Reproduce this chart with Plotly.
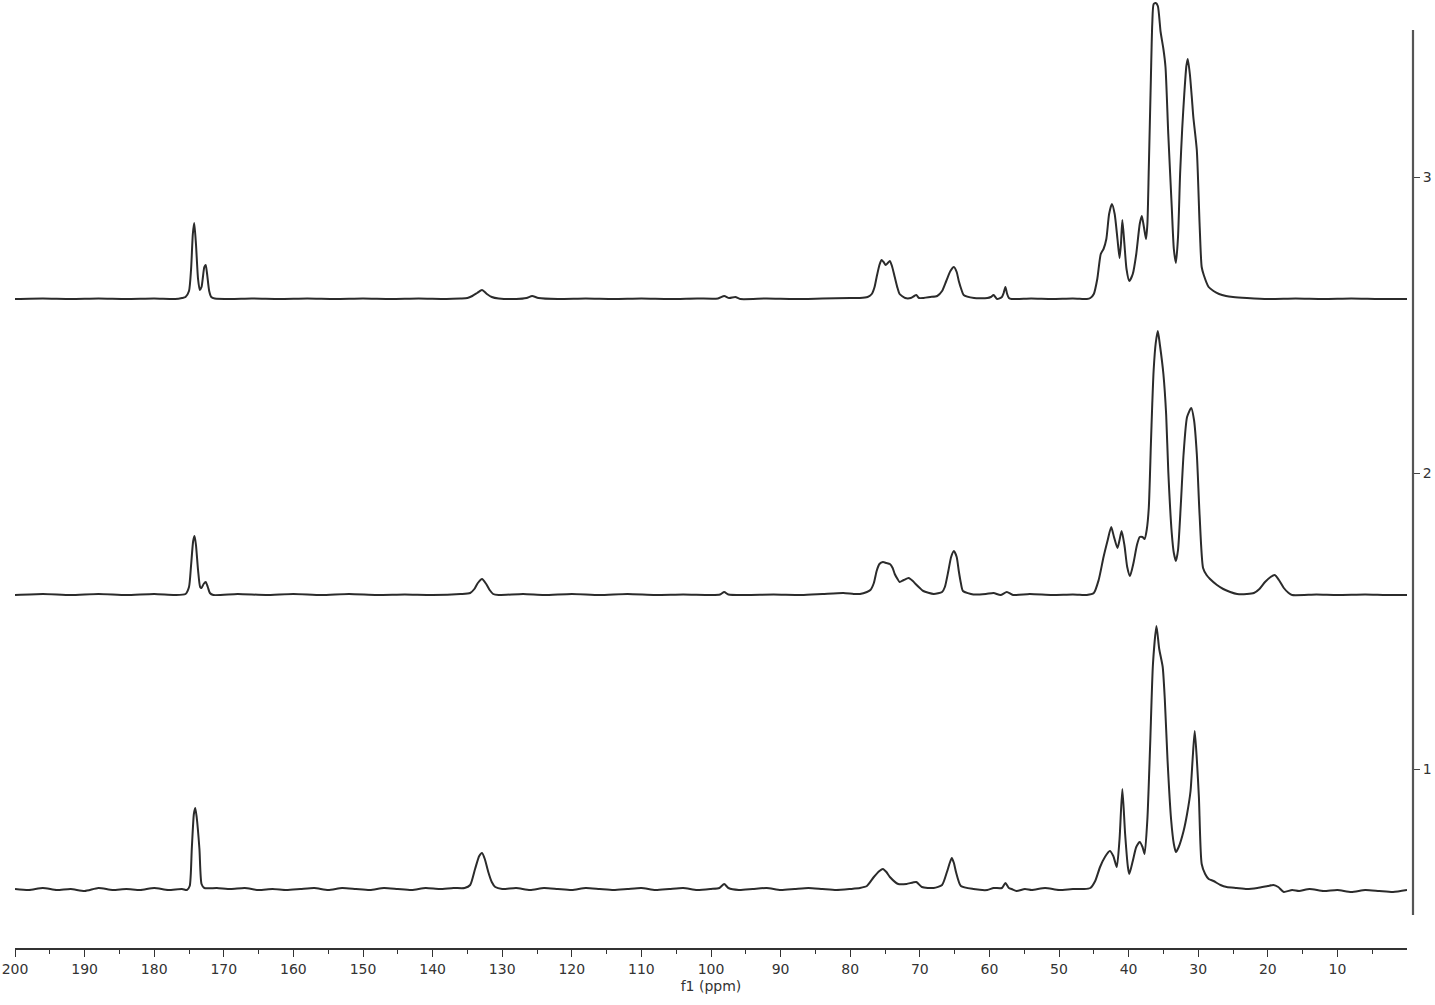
import plotly.graph_objects as go

# ---- data: (chemical shift ppm, intensity a.u.) ----
spectrum_1 = [
    (200, 0), (198, -1), (196, 1), (194, -1), (192, 0), (190, -2), (188, 1), (186, -1), (184, 0),
    (182, -1), (180, 1), (178, -1), (176, 0), (175.3, -1), (174.9, 3), (174.6, 40), (174.3, 75),
    (174.1, 81), (173.9, 72), (173.5, 40), (173.2, 5), (172.8, 1), (171, 1), (169, 0), (167, 1),
    (165, -1), (163, 0), (161, -1), (159, 0), (157, 1), (155, -1), (153, 1), (151, 0), (149, -1),
    (147, 1), (145, 0), (143, -1), (141, 1), (139, 0), (137, 1), (135.4, 1), (134.6, 4), (133.9, 20),
    (133.3, 33), (132.9, 36), (132.5, 30), (132.0, 17), (131.5, 7), (131.0, 2), (130, 0), (128, 1),
    (126, -1), (124, 1), (122, 0), (120, -1), (118, 1), (116, 0), (114, -1), (112, 0), (110, 1),
    (108, -1), (106, 0), (104, 1), (102, -1), (100, 0), (98.8, 1), (98.1, 5), (97.5, 1), (96, -1),
    (94, 0), (92, 1), (90, -1), (88, 0), (86, 1), (84, 0), (82, -1), (80, 0), (78.6, 1), (77.6, 3),
    (76.6, 12), (75.8, 18), (75.3, 20), (74.8, 17), (74.3, 12), (73.1, 5), (71.9, 5), (70.5, 7),
    (69.7, 2), (68.0, 1), (66.8, 4), (66.1, 17), (65.7, 26), (65.4, 31), (65.1, 26), (64.8, 17),
    (64.1, 3), (62.3, 0), (60.3, -1), (59.4, 1), (58.2, 1), (57.7, 6), (57.2, 1), (56.8, 0),
    (56.1, -2), (54.9, 0), (53.9, -1), (52, 1), (50, -1), (48, 0), (46.5, 0),
    (45.5, 1), (44.8, 8), (44.1, 22), (43.4, 32), (42.7, 38), (42.2, 33), (41.7, 22), (41.3, 50),
    (40.9, 100), (40.5, 55), (40.1, 22), (39.9, 15), (39.4, 28), (38.9, 42), (38.4, 47), (38.0, 42),
    (37.7, 35), (37.3, 70), (36.9, 145), (36.5, 225), (36.0, 263), (35.6, 240), (35.1, 222),
    (34.8, 190), (34.4, 128), (33.9, 70), (33.5, 45), (33.2, 37), (32.8, 42), (32.1, 58), (31.6, 75),
    (31.1, 98), (30.8, 130), (30.5, 158), (30.2, 130), (29.9, 92), (29.5, 25), (29.0, 15),
    (28.5, 10), (27.8, 8), (26.8, 4), (25.9, 2), (24.5, 1), (23.0, 0), (21.5, 1), (20.0, 3),
    (19.2, 4), (18.5, 2), (17.7, -3), (16.5, -1), (15.5, -2), (14, 0), (12, -2), (10, -1), (8, -3),
    (6, -1), (4, -2), (2, -3), (0, -1),
]

spectrum_2 = [
    (200, 0), (196, 1), (192, 0), (188, 1), (184, 0), (180, 1), (177, 0), (175.5, 1), (175.0, 8),
    (174.7, 30), (174.4, 54), (174.2, 59), (174.0, 50), (173.7, 25), (173.4, 8), (173.2, 7),
    (172.9, 11), (172.6, 13), (172.3, 8), (172.0, 2), (171.5, 0), (168, 1), (164, 0), (160, 1),
    (156, 0), (152, 1), (148, 0), (144, 0.5), (140, 0), (136, 1), (134.6, 2), (134.0, 6),
    (133.5, 12), (132.9, 16), (132.3, 11), (131.8, 5), (131.3, 1), (130.5, 0), (127, 1), (124, 0),
    (120, 1), (116, 0), (112, 1), (108, 0), (104, 0.5), (100, 0), (98.7, 0.5), (98.1, 3),
    (97.5, 0.5), (95, 0), (91, 0.5), (87, 0), (84, 1), (81, 2), (79.5, 1), (78.6, 1), (77.6, 3),
    (77.1, 5), (76.6, 12), (76.2, 24), (75.8, 31), (75.3, 33), (74.8, 32), (74.3, 31), (73.9, 27),
    (73.6, 21), (73.2, 16), (72.9, 13), (72.3, 15), (71.6, 17), (71.0, 14), (70.6, 11), (70.0, 7),
    (69.5, 4), (68.0, 1), (66.8, 3), (66.4, 8), (65.9, 24), (65.5, 38), (65.1, 44), (64.7, 38),
    (64.4, 24), (64.1, 12), (63.8, 4), (62.3, 0.5), (60.5, 1), (59.4, 2), (58.4, 0), (57.5, 3),
    (56.6, 0), (54.2, 1), (51, 0), (48, 0.5), (46.5, 0),
    (46.0, 0), (45.0, 2), (44.3, 15), (43.6, 38), (43.0, 55), (42.5, 68), (42.1, 58), (41.6, 47),
    (41.3, 55), (41.0, 64), (40.6, 50), (40.2, 28), (39.8, 19), (39.3, 32), (38.8, 50), (38.4, 58),
    (38.0, 58), (37.7, 56), (37.4, 65), (37.1, 87), (36.8, 150), (36.6, 191), (36.4, 225),
    (36.1, 252), (35.8, 264), (35.5, 250), (35.0, 221), (34.6, 180), (34.3, 124), (33.8, 62),
    (33.5, 42), (33.2, 34), (32.9, 45), (32.5, 90), (32.1, 141), (31.6, 178), (31.0, 187),
    (30.6, 175), (30.2, 141), (29.8, 80), (29.3, 27), (28.8, 20), (28.3, 16), (27.3, 10),
    (26.4, 6), (25.4, 3), (24.4, 1), (23.0, 1), (22.0, 2), (21.2, 6), (20.4, 13), (19.6, 18),
    (19.0, 20), (18.4, 15), (17.7, 7), (17.0, 2), (16.5, 0), (13, 0.5), (10, 0), (6, 0.5), (3, 0),
    (0, 0),
]

spectrum_3 = [
    (200, 0), (196, 0.5), (192, 0), (188, 0.5), (184, 0), (180, 0.5), (177, 0), (176, 1),
    (175.5, 2), (175.0, 8), (174.7, 30), (174.45, 65), (174.25, 76), (174.0, 55), (173.7, 20),
    (173.45, 9), (173.2, 12), (173.0, 22), (172.8, 32), (172.6, 34), (172.4, 25), (172.1, 8),
    (171.8, 2), (171.3, 0.5), (169, 0), (166, 0.5), (162, 0), (158, 0.5), (154, 0), (150, 0.5),
    (146, 0), (142, 0.5), (138, 0), (136, 0.5), (135, 1), (134.3, 3), (133.6, 6), (132.9, 9),
    (132.2, 5), (131.5, 2), (130.5, 0.5), (128, 0), (126.5, 1), (125.7, 3), (124.8, 1), (122, 0),
    (118, 0.5), (114, 0), (110, 0.5), (106, 0), (102, 0.5), (99, 0.5), (98.1, 3), (97.4, 1),
    (96.5, 2), (95.8, 0), (92, 0.5), (88, 0), (84, 0.5), (80, 1), (78.6, 1), (77.5, 2), (76.9, 5),
    (76.5, 12), (76.2, 22), (75.8, 34), (75.5, 39), (75.2, 37), (74.9, 34), (74.6, 36), (74.3, 38),
    (74.0, 33), (73.6, 22), (73.2, 11), (72.9, 5), (72.1, 1), (71.3, 1), (70.8, 3), (70.5, 4),
    (70.1, 1), (68.5, 2), (67.5, 3), (66.8, 8), (66.2, 18), (65.6, 28), (65.1, 32), (64.7, 27),
    (64.4, 18), (64.0, 9), (63.7, 4), (62.2, 1), (60.3, 1), (59.8, 2), (59.4, 4), (58.9, 0),
    (58.2, 2), (57.95, 6), (57.7, 12), (57.45, 5), (57.2, 1), (56.8, 0), (54, 0.5), (51, 0),
    (48, 0.5), (46.5, 0),
    (46.0, 0), (45.5, 1), (45.0, 5), (44.5, 20), (44.0, 45), (43.6, 50), (43.2, 60), (42.8, 85),
    (42.4, 95), (42.0, 85), (41.6, 60), (41.3, 41), (41.1, 55), (40.9, 79), (40.6, 55), (40.3, 30),
    (39.9, 18), (39.4, 25), (38.9, 45), (38.4, 75), (38.1, 83), (37.8, 72), (37.5, 60), (37.3, 75),
    (37.1, 130), (36.8, 220), (36.6, 275), (36.4, 295), (36.1, 296), (35.8, 293), (35.4, 267),
    (35.0, 250), (34.7, 232), (34.3, 165), (33.8, 92), (33.5, 50), (33.2, 36), (32.9, 62),
    (32.6, 125), (32.3, 170), (32.0, 205), (31.7, 233), (31.5, 240), (31.2, 225), (30.9, 200),
    (30.7, 182), (30.2, 149), (29.8, 75), (29.5, 32), (29.2, 24), (28.5, 12), (27.8, 8), (27.0, 5),
    (26.0, 3), (25.0, 2), (23.0, 1), (20, 0), (16, 0.5), (12, 0), (8, 0.5), (4, 0), (0, 0),
]

spectra = [spectrum_1, spectrum_2, spectrum_3]
stack_offsets = [0, 294, 590]          # vertical stacking of each spectrum (a.u.)
trace_labels = ["1", "2", "3"]
trace_label_positions = [120, 416, 712]

x_tick_values = list(range(200, 0, -10))
x_minor_values = list(range(195, 0, -10))

LINE = "#2b2b2b"
FONT = dict(family="DejaVu Sans, Verdana, sans-serif", size=14, color="#333333")

fig = go.Figure()
for spec, off in zip(spectra, stack_offsets):
    xs = [p[0] for p in spec]
    ys = [p[1] + off for p in spec]
    fig.add_trace(go.Scatter(
        x=xs, y=ys, mode="lines",
        line=dict(color=LINE, width=2, shape="spline", smoothing=0.6),
        showlegend=False, hoverinfo="skip",
    ))

W, H = 1435, 1005
ml, mr, mt, mb = 15, 22, 0, 57
plot_w = W - ml - mr
x_end = (1407 - ml) / plot_w

fig.update_layout(
    width=W, height=H,
    margin=dict(l=ml, r=mr, t=mt, b=mb, autoexpand=False),
    paper_bgcolor="white", plot_bgcolor="white",
    font=FONT,
    xaxis=dict(
        domain=[0, x_end],
        range=[200, 0],
        automargin=False,
        showgrid=False, zeroline=False,
        showline=True, linecolor="#333333", linewidth=1.5,
        ticks="outside", ticklen=7, tickwidth=1.2, tickcolor="#333333",
        tickmode="array", tickvals=x_tick_values,
        ticktext=[str(v) for v in x_tick_values],
        minor=dict(tickmode="array", tickvals=x_minor_values, ticks="outside",
                   ticklen=4, tickwidth=1.2, tickcolor="#333333"),
        title=dict(text="f1 (ppm)", standoff=6, font=FONT),
        anchor="y",
    ),
    yaxis=dict(
        range=[-59, 889],
        side="right", anchor="free", position=1,
        automargin=False,
        showgrid=False, zeroline=False, showline=False,
        ticks="outside", ticklen=6, tickwidth=1.2, tickcolor="#444444",
        tickmode="array", tickvals=trace_label_positions, ticktext=trace_labels,
    ),
)

# right-hand vertical axis bar spanning the stacked spectra
fig.add_shape(type="line", xref="paper", yref="y", x0=1, x1=1, y0=-26, y1=859,
              line=dict(color="#555555", width=2.2))

fig.write_html(
    "out.html",
    config={"responsive": False, "displayModeBar": False},
    post_script="document.body.style.margin='0px';document.body.style.overflow='hidden';",
)
